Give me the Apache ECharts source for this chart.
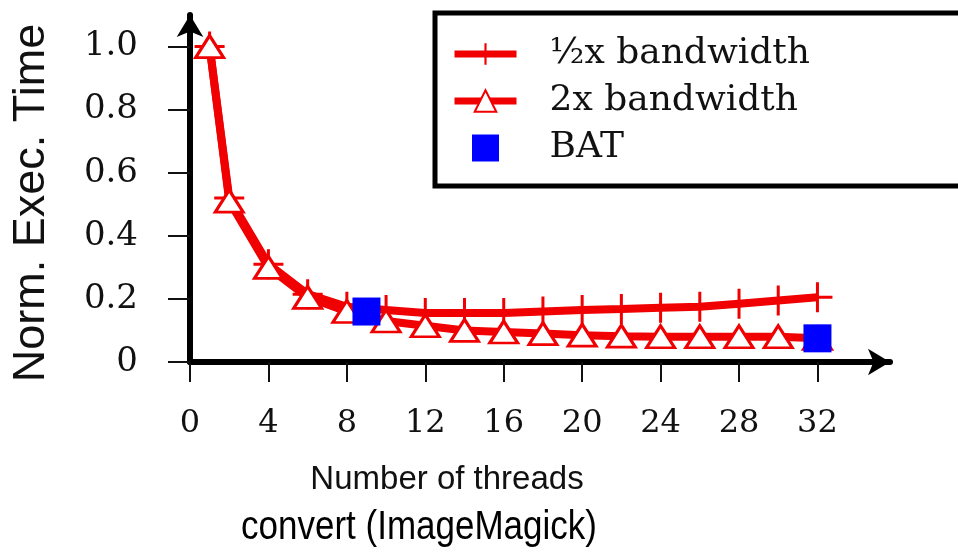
<!DOCTYPE html>
<html>
<head>
<meta charset="utf-8">
<script src="https://cdn.jsdelivr.net/npm/echarts@6/dist/echarts.min.js"></script>
<style>
  html, body { margin: 0; padding: 0; background: #fff; }
  #chart { width: 958px; height: 559px; }
</style>
</head>
<body>
<div id="chart"></div>
<script>
// data
const threads = [1, 2, 4, 6, 8, 10, 12, 14, 16, 18, 20, 22, 24, 26, 28, 30, 32]
const halfBw = [1.0, 0.52, 0.31, 0.215, 0.175, 0.165, 0.155, 0.155, 0.155, 0.16, 0.165, 0.168, 0.172, 0.175, 0.185, 0.195, 0.205]
const doubleBw = [1.0, 0.51, 0.30, 0.205, 0.16, 0.13, 0.115, 0.10, 0.095, 0.09, 0.085, 0.082, 0.08, 0.08, 0.08, 0.08, 0.075]
const batThreads = [9, 32]
const batTime = [0.16, 0.075]
const xTicks = [0, 4, 8, 12, 16, 20, 24, 28, 32]
const yTicks = [0, 0.2, 0.4, 0.6, 0.8, 1.0]
const seriesNames = ['\u00bdx bandwidth', '2x bandwidth', 'BAT']

const RED = '#f00000'
const plusPath = 'path://M9,0h2v20h-2zM0,9h20v2h-20z'
const zip = (xs, ys) => xs.map((x, i) => [x, ys[i]])

const chart = echarts.init(document.getElementById('chart'))

const option = {
  animation: false,
  backgroundColor: '#fff',
  grid: { left: 190, right: 68, top: 15, bottom: 197 },
  xAxis: {
    type: 'value',
    min: 0,
    max: 35.7,
    splitLine: { show: false },
    axisLine: {
      lineStyle: { color: '#000', width: 6 },
      symbol: ['none', 'arrow'],
      symbolSize: [20, 22]
    },
    axisTick: { customValues: xTicks, length: 20, lineStyle: { color: '#111', width: 2 } },
    axisLabel: {
      customValues: xTicks,
      margin: 46,
      fontFamily: 'DejaVu Serif',
      fontSize: 32,
      color: '#111'
    }
  },
  yAxis: {
    type: 'value',
    min: 0,
    max: 1.1,
    splitLine: { show: false },
    axisLine: {
      lineStyle: { color: '#000', width: 6 },
      symbol: ['none', 'arrow'],
      symbolSize: [20, 22]
    },
    axisTick: { customValues: yTicks, length: 22, lineStyle: { color: '#111', width: 2 } },
    axisLabel: {
      customValues: yTicks,
      margin: 52,
      fontFamily: 'DejaVu Serif',
      fontSize: 34,
      color: '#111',
      formatter: v => (v === 0 ? '0' : v.toFixed(1))
    }
  },
  legend: {
    orient: 'vertical',
    left: 435,
    top: 13,
    data: [
      { name: seriesNames[0], lineStyle: { width: 7 } },
      { name: seriesNames[1], lineStyle: { width: 7 } },
      { name: seriesNames[2], icon: 'path://M0,0h10v10h-10z' }
    ],
    itemWidth: 62,
    itemHeight: 27,
    itemGap: 11,
    padding: [23, 400, 20, 16],
    borderColor: '#000',
    borderWidth: 5,
    textStyle: {
      fontFamily: 'DejaVu Serif',
      fontSize: 36,
      color: '#111',
      padding: [0, 0, 0, 28]
    }
  },
  graphic: [
    {
      type: 'text',
      x: 32,
      y: 203,
      rotation: Math.PI / 2,
      style: {
        text: 'Norm. Exec. Time',
        font: '45px "Liberation Sans"',
        fill: '#111',
        align: 'center',
        verticalAlign: 'middle'
      }
    },
    {
      type: 'text',
      x: 447,
      y: 480,
      style: {
        text: 'Number of threads',
        font: '33px "Liberation Sans"',
        fill: '#111',
        align: 'center',
        verticalAlign: 'middle'
      }
    },
    {
      type: 'text',
      x: 419,
      y: 528,
      scaleY: 1.15,
      style: {
        text: 'convert (ImageMagick)',
        font: '35px "Liberation Sans"',
        fill: '#000',
        align: 'center',
        verticalAlign: 'middle'
      }
    }
  ],
  series: [
    {
      name: seriesNames[0],
      type: 'line',
      data: zip(threads, halfBw),
      symbol: plusPath,
      symbolSize: 30,
      itemStyle: { color: RED },
      lineStyle: { color: RED, width: 8 },
      z: 2
    },
    {
      name: seriesNames[1],
      type: 'line',
      data: zip(threads, doubleBw),
      symbol: 'triangle',
      symbolSize: [28, 22],
      itemStyle: { color: '#fff', borderColor: RED, borderWidth: 3 },
      lineStyle: { color: RED, width: 8 },
      z: 3
    },
    {
      name: seriesNames[2],
      type: 'scatter',
      data: zip(batThreads, batTime),
      symbol: 'rect',
      symbolSize: 28,
      itemStyle: { color: '#0000ff', opacity: 1 },
      z: 5
    }
  ]
}

chart.setOption(option)
</script>
</body>
</html>
